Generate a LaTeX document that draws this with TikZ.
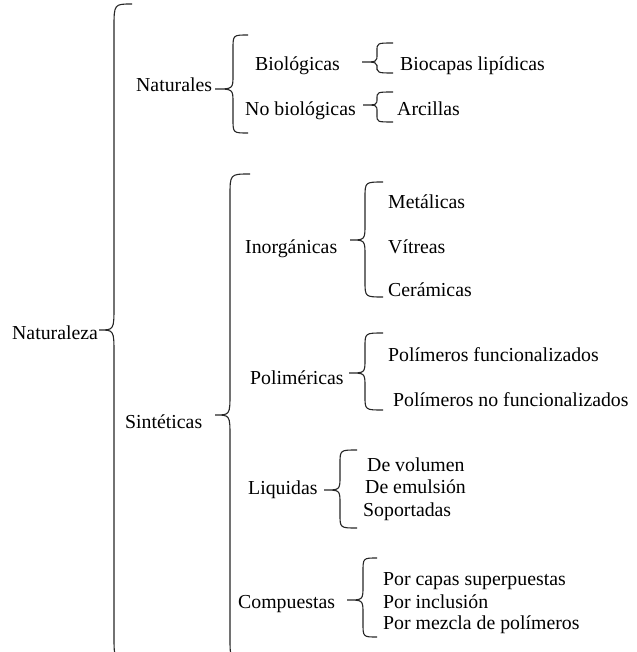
\documentclass[tikz,border=0pt]{standalone}
\usepackage{fontspec}
\setmainfont{Liberation Serif}
\newcommand\brc[7]{\draw[bracestyle] (#1,#4) .. controls (#2,#4) .. (#2,#4+#7) -- (#2,#5-#7) .. controls (#2,#5) .. (#3,#5) .. controls (#2,#5) .. (#2,#5+#7) -- (#2,#6-#7) .. controls (#2,#6) .. (#1,#6);}
\begin{document}
\begin{tikzpicture}[x=1pt,y=-1pt,
  lbl/.style={anchor=base west,inner sep=0pt,font=\fontsize{19.8}{22}\selectfont,text=black},
  bracestyle/.style={draw=black!85,line width=1.1pt}]
\useasboundingbox (0,0) rectangle (636,652);
\clip (0,0) rectangle (636,652);
% texts
\node[lbl] (nat) at (12,339) {Naturaleza};
\node[lbl] (natu) at (136,92) {Naturales};
\node[lbl] (bio) at (255,71) {Biológicas};
\node[lbl] (biocap) at (400,71) {Biocapas lipídicas};
\node[lbl] (nobio) at (245,116) {No biológicas};
\node[lbl] (arc) at (397,116) {Arcillas};
\node[lbl] (sin) at (125,428) {Sintéticas};
\node[lbl] (inor) at (245,253) {Inorgánicas};
\node[lbl] (met) at (388,208) {Metálicas};
\node[lbl] (vit) at (388,253) {Vítreas};
\node[lbl] (cer) at (388,296) {Cerámicas};
\node[lbl] (pol) at (250,384) {Poliméricas};
\node[lbl] (pf) at (388,361) {Polímeros funcionalizados};
\node[lbl] (pnf) at (393,406) {Polímeros no funcionalizados};
\node[lbl] (liq) at (248,494) {Liquidas};
\node[lbl] (dv) at (367,471) {De volumen};
\node[lbl] (de) at (365,493) {De emulsión};
\node[lbl] (sop) at (363,516) {Soportadas};
\node[lbl] (comp) at (238,608) {Compuestas};
\node[lbl] (pc) at (383,585) {Por capas superpuestas};
\node[lbl] (pi) at (383,608) {Por inclusión};
\node[lbl] (pm) at (383,629) {Por mezcla de polímeros};
% braces
\brc{132}{114}{99}{4}{330}{660}{24}
\brc{248}{233}{215}{35}{89}{133}{14}
\brc{393}{377}{362}{43}{62}{73}{8}
\brc{393}{377}{363}{92}{105}{122}{7}
\brc{250}{230}{215}{174}{415}{660}{22}
\brc{383}{365}{350}{182}{240}{297}{16}
\brc{383}{365}{349}{333}{373}{410}{14}
\brc{357}{340}{324}{450}{490}{528}{14}
\brc{377}{363}{347}{558}{600}{637}{14}
\end{tikzpicture}
\end{document}
